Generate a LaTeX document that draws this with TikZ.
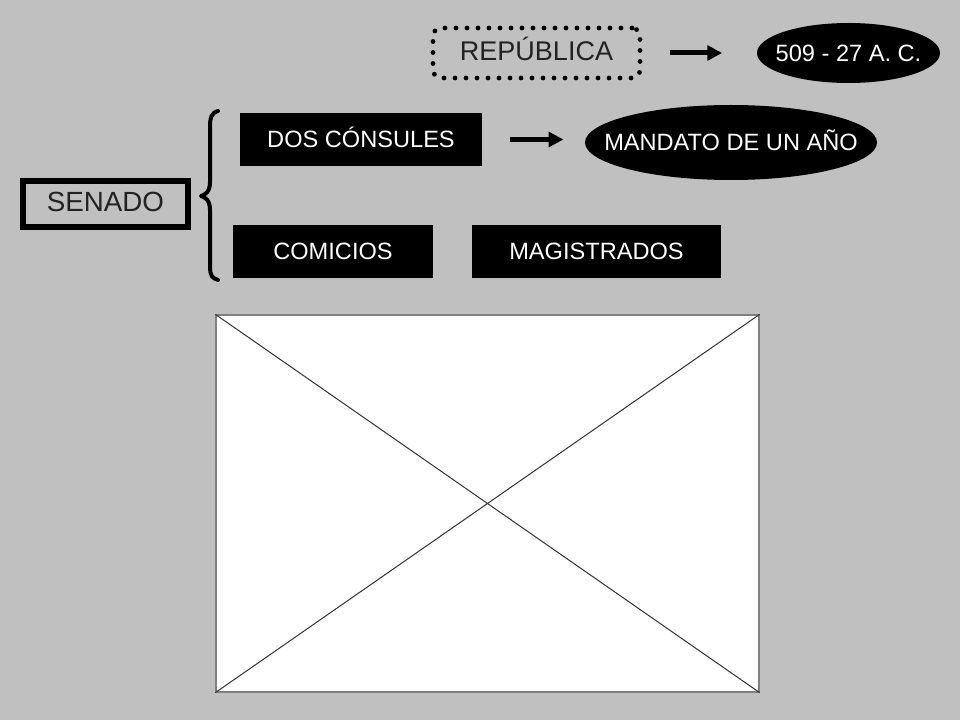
\documentclass[tikz,border=0pt]{standalone}
\usepackage{fontspec}
\setmainfont{Liberation Sans}
\usetikzlibrary{arrows.meta,shapes.geometric}
\definecolor{bg}{HTML}{C0C0C0}
\definecolor{darktext}{HTML}{222222}
\definecolor{phborder}{HTML}{808080}
\definecolor{phline}{HTML}{333333}
\begin{document}
\begin{tikzpicture}[x=0.75pt,y=-0.75pt,
  blackbox/.style={draw=none,fill=black,text=white,inner sep=0pt,text height=12.67pt,text depth=0pt,font=\fontsize{17.7}{20}\selectfont,minimum height=39.75pt},
  blackoval/.style={ellipse,draw=none,fill=black,text=white,inner sep=0pt,text height=12.67pt,text depth=0pt,font=\fontsize{17.7}{20}\selectfont},
  fatarrow/.style={line width=3.75pt,-{Triangle[length=11pt,width=11pt]}},
]
\fill[bg] (0,0) rectangle (960,720);
\useasboundingbox (0,0) rectangle (960,720);

\node[draw=black,line width=3.6pt,dash pattern=on 0pt off 8.25pt,line cap=round,rounded corners=6pt,
      minimum width=155.25pt,minimum height=37.5pt,inner sep=0pt,text=darktext,text height=11.5pt,text depth=0pt,
      font=\fontsize{20.25}{23}\selectfont] (rep) at (536.5,53) {REPÚBLICA};
\node[blackoval,minimum width=137.25pt,minimum height=45pt] (date) at (848.5,53) {\makebox[0pt]{509 - 27 A. C.}};

\node[blackbox,minimum width=181.5pt] (cons) at (361,139.5) {DOS CÓNSULES};
\node[blackoval,minimum width=219pt,minimum height=56.25pt] (mand) at (731,142.5) {\makebox[0pt]{MANDATO DE UN AÑO}};

\node[draw=black,line width=4.5pt,fill=bg,minimum width=123.75pt,minimum height=34.5pt,inner sep=0pt,
      text=darktext,text height=10.9pt,text depth=0pt,font=\fontsize{20.8}{23}\selectfont] (sen) at (105.5,204) {SENADO};

\node[blackbox,minimum width=150pt] (com) at (333,251.5) {COMICIOS};
\node[blackbox,minimum width=186.75pt] (mag) at (596.5,251.5) {MAGISTRADOS};

\draw[fatarrow,shorten <=21pt,shorten >=26pt] (rep.east) -- (rep.east -| date.west);
\draw[fatarrow,shorten <=21pt,shorten >=16pt] (cons.east) -- (cons.east -| mand.west);

% brace
\draw[line width=3pt,line cap=round,line join=round]
  (218,111) .. controls (211,113) and (210,118) .. (210,128)
  -- (210,182) .. controls (210,192) and (205,195) .. (201,196)
  .. controls (205,197) and (210,200) .. (210,210)
  -- (210,266) .. controls (210,276) and (212,278) .. (218,280);

% placeholder picture
\node[draw=phborder,line width=1pt,fill=white,minimum width=407.25pt,minimum height=282.75pt,inner sep=0pt] (ph) at (487.5,503.5) {};
\draw[phline,line width=0.75pt] (ph.north west) -- (ph.south east);
\draw[phline,line width=0.75pt] (ph.north east) -- (ph.south west);
\end{tikzpicture}
\end{document}
